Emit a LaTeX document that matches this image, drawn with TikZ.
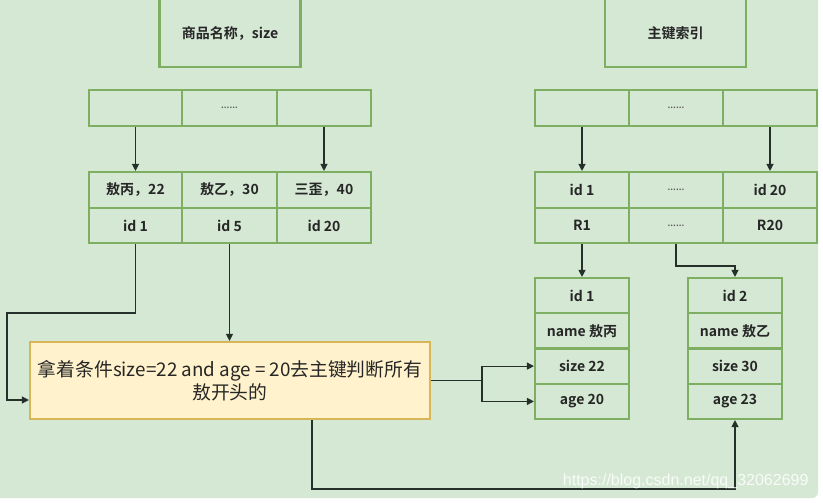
\documentclass[tikz,border=0pt]{standalone}
\usepackage{fontspec}
\setmainfont{Noto Sans CJK SC}[BoldFont={Noto Sans CJK SC Bold}]
\newfontfamily\wmfont{Liberation Sans}
\usetikzlibrary{arrows.meta,calc}
\definecolor{bg}{HTML}{D5E8D4}
\definecolor{gline}{HTML}{7DAE62}
\definecolor{yfill}{HTML}{FFF2CC}
\definecolor{yline}{HTML}{D6B656}
\definecolor{conn}{HTML}{26302A}
\tikzset{
  cellbox/.style={draw=gline, line width=2.1pt, fill=bg, inner sep=0pt, font=\bfseries\fontsize{14}{16}\selectfont, text=black!85},
  dotsbox/.style={cellbox, font=\bfseries\fontsize{8.5}{8.5}\selectfont, text=black!65},
  conn/.style={draw=conn, line width=1.2pt},
  arr/.style={conn, -{Triangle[length=7pt,width=7pt]}},
}
\begin{document}
\begin{tikzpicture}[x=1pt,y=-1pt]
\useasboundingbox (0,0) rectangle (823,503);
\fill[white] (0,0) rectangle (823,503);
\fill[bg, rounded corners=6pt] (-10,-10) rectangle (818,498);
% top boxes
\node[cellbox, minimum width=141pt, minimum height=80pt] (tl) at (230,27) {};
\node[font=\bfseries\fontsize{14}{16}\selectfont, text=black!85] (tlt) at (230,33) {商品名称，size};
\node[cellbox, minimum width=141pt, minimum height=80pt] (tr) at (675.5,27) {};
\node[font=\bfseries\fontsize{14}{16}\selectfont, text=black!85] (trt) at (675.5,33) {主键索引};
% left top row
\node[cellbox, minimum width=93pt, minimum height=36pt] (lt1) at (135.5,108) {};
\node[dotsbox, minimum width=95pt, minimum height=36pt] (lt2) at (229.5,108) {......};
\node[cellbox, minimum width=94pt, minimum height=36pt] (lt3) at (324,108) {};
% left rows
\node[cellbox, minimum width=93pt, minimum height=36pt] (lb1) at (135.5,190) {敖丙，22};
\node[cellbox, minimum width=95pt, minimum height=36pt] (lb2) at (229.5,190) {敖乙，30};
\node[cellbox, minimum width=94pt, minimum height=36pt] (lb3) at (324,190) {三歪，40};
\node[cellbox, minimum width=93pt, minimum height=35pt] (li1) at (135.5,225.5) {id 1};
\node[cellbox, minimum width=95pt, minimum height=35pt] (li5) at (229.5,225.5) {id 5};
\node[cellbox, minimum width=94pt, minimum height=35pt] (li20) at (324,225.5) {id 20};
% right top row
\node[cellbox, minimum width=94pt, minimum height=36pt] (rt1) at (582,108) {};
\node[dotsbox, minimum width=94pt, minimum height=36pt] (rt2) at (676,108) {......};
\node[cellbox, minimum width=94pt, minimum height=36pt] (rt3) at (770,108) {};
% right rows
\node[cellbox, minimum width=94pt, minimum height=36pt] (rb1) at (582,190) {id 1};
\node[dotsbox, minimum width=94pt, minimum height=36pt] (rb2) at (676,190) {......};
\node[cellbox, minimum width=94pt, minimum height=36pt] (rb3) at (770,190) {id 20};
\node[cellbox, minimum width=94pt, minimum height=35pt] (rr1) at (582,225.5) {R1};
\node[dotsbox, minimum width=94pt, minimum height=35pt] (rr2) at (676,225.5) {......};
\node[cellbox, minimum width=94pt, minimum height=35pt] (rr3) at (770,225.5) {R20};
% record 1
\node[cellbox, minimum width=94pt, minimum height=35.25pt] (ra1) at (582,295.6) {id 1};
\node[cellbox, minimum width=94pt, minimum height=35.25pt] (ra2) at (582,330.9) {name 敖丙};
\node[cellbox, minimum width=94pt, minimum height=35.25pt] (ra3) at (582,366.1) {size 22};
\node[cellbox, minimum width=94pt, minimum height=35.25pt] (ra4) at (582,401.4) {age 20};
% record 2
\node[cellbox, minimum width=94pt, minimum height=35.25pt] (rc1) at (735,295.6) {id 2};
\node[cellbox, minimum width=94pt, minimum height=35.25pt] (rc2) at (735,330.9) {name 敖乙};
\node[cellbox, minimum width=94pt, minimum height=35.25pt] (rc3) at (735,366.1) {size 30};
\node[cellbox, minimum width=94pt, minimum height=35.25pt] (rc4) at (735,401.4) {age 23};
% yellow box
\node[draw=yline, line width=2.1pt, fill=yfill, minimum width=400pt, minimum height=77pt, inner sep=0pt, align=center, font=\fontsize{18.8}{23.5}\selectfont, text=black!85] (yel) at (230,380.5) {拿着条件size=22 and age = 20去主键判断所有\\敖开头的};
% connectors
\draw[arr] (lt1.south) -- (lb1.north);
\draw[arr] (lt3.south) -- (lb3.north);
\draw[arr] (rt1.south) -- (rb1.north);
\draw[arr] (rt3.south) -- (rb3.north);
\coordinate (k1) at (7,313);
\coordinate (k2) at (7,400);
\draw[arr] (li1.south) |- (k1) -- (k2) -- (yel.west |- k2);
\draw[arr] (li5.south) -- (li5.south |- yel.north);
\coordinate (br) at (482,380.5);
\draw[conn] (yel.east) -- (br);
\draw[arr] (br) |- (ra3.west);
\draw[arr] (br) |- (ra4.west);
\draw[arr] (rr1.south) -- (ra1.north);
\coordinate (k4) at (676,266);
\draw[arr] (rr2.south) -- (k4) -| (rc1.north);
\coordinate (k3) at (312,489);
\draw[arr] (yel.south -| k3) -- (k3) -| (rc4.south);
% watermark
\node[anchor=east, text=white, opacity=0.85, font=\wmfont\fontsize{16}{16}\selectfont] (wm) at (812,481) {https://blog.csdn.net/qq\_32062699};
\end{tikzpicture}
\end{document}
